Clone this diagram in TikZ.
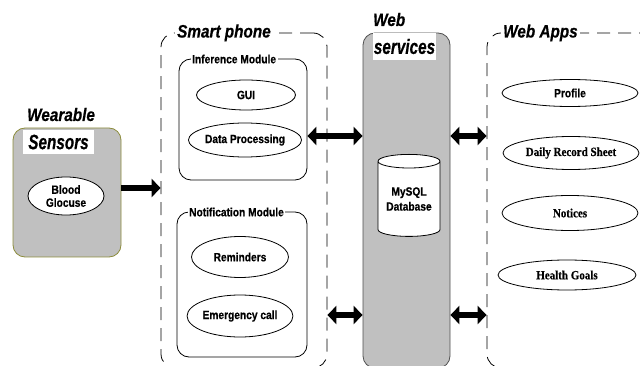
\documentclass[tikz,border=0pt]{standalone}
\usepackage{fontspec}
\setmainfont{Liberation Sans}
\newfontfamily\nsans[FakeStretch=0.85,FakeBold=0.5]{Liberation Sans}
\newfontfamily\nserif[FakeStretch=0.88,FakeBold=0.4]{Liberation Serif}
\usetikzlibrary{arrows.meta,shapes.geometric}
\definecolor{panelgray}{HTML}{C0C0C0}
\definecolor{panelrim}{HTML}{505050}
\definecolor{sensorrim}{HTML}{8C8C3C}
\tikzset{
  lbl/.style={font=\nsans\bfseries\itshape\fontsize{18}{20}\selectfont, inner sep=0pt},
  oval/.style={ellipse, draw, line width=0.8pt, inner sep=0pt, align=center,
    font=\nsans\bfseries\fontsize{12}{15}\selectfont},
  soval/.style={oval, font=\nserif\bfseries\fontsize{12.5}{15}\selectfont},
  modbox/.style={draw, rounded corners=12pt, line width=0.8pt},
  tierbox/.style={draw, dash pattern=on 13pt off 8pt, rounded corners=14pt, line width=0.8pt},
  modlbl/.style={fill=white, inner xsep=1.5pt, inner ysep=0pt,
    font=\nsans\bfseries\fontsize{12}{14}\selectfont},
  arr/.style={line width=6pt, -{Triangle[width=18pt,length=9pt]}},
  dblarr/.style={line width=6pt, {Triangle[width=18pt,length=9pt]}-{Triangle[width=18pt,length=9pt]}},
}
\begin{document}
\begin{tikzpicture}[x=1pt,y=-1pt]
\useasboundingbox (0,0) rectangle (640,366);
\clip (0,0) rectangle (640,366);

% wearable sensors
\node[draw=sensorrim, line width=0.8pt, fill=panelgray, rounded corners=12pt,
  minimum width=108pt, minimum height=129pt] (sens) at (67,192.5) {};
\node[lbl, anchor=base west] (senst) at (27,121) {Wearable};
\node[lbl, fill=white, minimum width=71pt, minimum height=24pt] (sensl) at (58.5,142)
  {\scalebox{1}[1.15]{Sensors}};
\node[oval, fill=white, minimum width=76pt, minimum height=38pt] (blood) at (66,196)
  {Blood\\[-2pt]Glocuse};

% smart phone tier
\node[tierbox, minimum width=166pt, minimum height=335pt] (phone) at (244,200.5) {};
\node[lbl, fill=white, inner xsep=2pt, anchor=base west] (phonel) at (175,37.5) {Smart phone};

\node[modbox, minimum width=128pt, minimum height=121pt] (inf) at (243,119.5) {};
\node[modlbl, anchor=base west] (infl) at (190.5,63.3) {Inference Module};
\node[oval, minimum width=99pt, minimum height=30pt] (gui) at (246,95) {GUI};
\node[oval, minimum width=103pt, minimum height=34pt] (dp) at (245,140) {Data Processing};

\node[modbox, minimum width=130pt, minimum height=145pt] (notif) at (242,284.5) {};
\node[modlbl, anchor=base west] (notifl) at (187.5,216.3) {Notification Module};
\node[oval, minimum width=97pt, minimum height=41pt] (rem) at (240,257) {Reminders};
\node[oval, minimum width=97pt, minimum height=42pt] (emc) at (240,316) {Emergency call};

% web services tier
\node[draw=panelrim, line width=0.8pt, fill=panelgray, rounded corners=12pt,
  minimum width=87pt, minimum height=335pt] (ws) at (406.5,200.5) {};
\node[lbl, anchor=base west] (wst) at (373,26) {Web};
\node[lbl, fill=white, minimum width=63pt, minimum height=27pt] (wsl) at (404.5,46.5)
  {\scalebox{1}[1.15]{services}};
\node[cylinder, shape border rotate=90, draw, line width=0.8pt, fill=white, aspect=0.3,
  minimum width=62pt, minimum height=82pt, inner sep=0pt, align=center,
  font=\nsans\bfseries\fontsize{12}{15}\selectfont] (db) at (409,199) {MySQL\\Database};

% web apps tier
\node[tierbox, minimum width=200pt, minimum height=335pt] (apps) at (587,200.5) {};
\node[lbl, fill=white, inner xsep=2pt, anchor=base west] (appsl) at (501,37.5) {Web Apps};
\node[oval, minimum width=136pt, minimum height=27pt] (prof) at (570,93) {Profile};
\node[soval, minimum width=136pt, minimum height=33pt] (drs) at (571,153) {Daily Record Sheet};
\node[soval, minimum width=136pt, minimum height=35pt] (not) at (570,213) {Notices};
\node[soval, minimum width=138pt, minimum height=30pt] (hg) at (567,275) {Health Goals};

% connectors
\coordinate (r0) at (0,188);
\coordinate (r1) at (0,136);
\coordinate (r2) at (0,315);
\draw[arr] (r0 -| sens.east) -- (r0 -| phone.west);
\draw[dblarr] (r1 -| inf.east) -- (r1 -| ws.west);
\draw[dblarr] (r2 -| phone.east) -- (r2 -| ws.west);
\draw[dblarr] (r1 -| ws.east) -- (r1 -| apps.west);
\draw[dblarr] (r2 -| ws.east) -- (r2 -| apps.west);
\end{tikzpicture}
\end{document}
